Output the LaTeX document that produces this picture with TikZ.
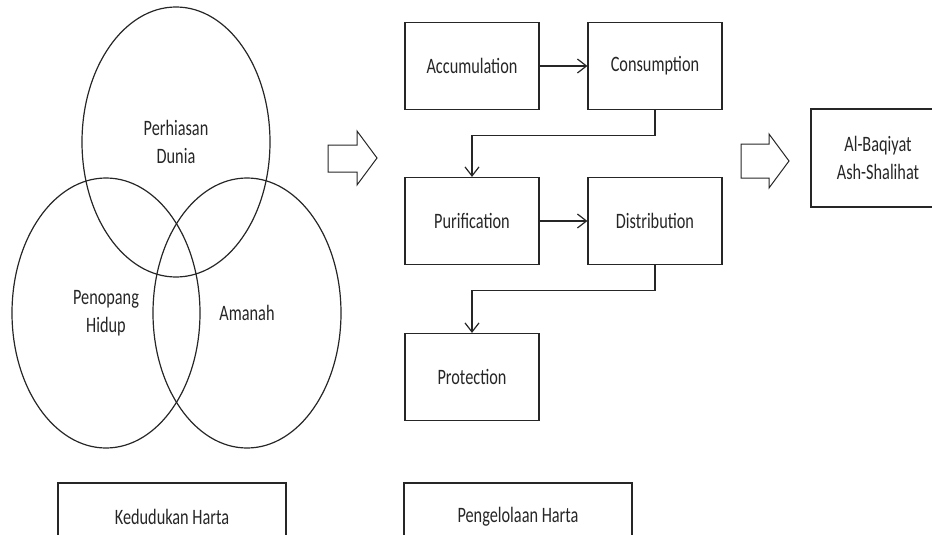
\documentclass[tikz,border=0pt]{standalone}
\usepackage{fontspec}
\setmainfont{Carlito}[FakeStretch=0.74]
\usetikzlibrary{arrows.meta,shapes.geometric}
\tikzstyle{setStyle}=[shape = ellipse, draw, minimum width = 188pt, minimum height = 270pt, inner sep = 0pt, align = center]
\tikzstyle{stepStyle}=[shape = rectangle, draw, minimum width = 134pt, minimum height = 87pt, inner sep = 0pt, align = center]
\tikzstyle{titleStyle}=[shape = rectangle, draw, minimum width = 228pt, minimum height = 68pt, inner sep = 0pt]
\tikzstyle{flowStyle}=[-{Straight Barb[length = 9pt, width = 14pt]}]

\begin{document}
\begin{tikzpicture}[x = 1pt, y = -1pt, line width = 1.2pt, color = black!85, font = \fontsize{22}{28}\selectfont]
\useasboundingbox (0,0) rectangle (932,535);
\node[setStyle] (s0) at (176,142) {Perhiasan\\Dunia};
\node[setStyle] (s1) at (106,313) {Penopang\\Hidup};
\node[setStyle] (s2) at (247,313) {Amanah};
\node[stepStyle] (p0) at (472,66) {Accumulation};
\node[stepStyle] (p1) at (655,66) {Consumption};
\node[stepStyle] (p2) at (472,221) {Purification};
\node[stepStyle] (p3) at (655,221) {Distribution};
\node[stepStyle] (p4) at (472,377) {Protection};
\node[stepStyle, minimum height = 98pt] (r0) at (878,158) {Al-Baqiyat\\Ash-Shalihat};
\node[titleStyle] (t0) at (172,517) {Kedudukan Harta};
\node[titleStyle] (t1) at (518,517) {Pengelolaan Harta};
\draw[flowStyle] (p0) -- (p1);
\draw[flowStyle] (p2) -- (p3);
\draw[flowStyle] (p1.south) -- ++(0,25) -| (p2.north);
\draw[flowStyle] (p3.south) -- ++(0,25) -| (p4.north);
\draw[line width = 1pt] (328,145) -- (357,145) -- (357,131) -- (377,158) -- (357,185) -- (357,172) -- (328,172) -- cycle;
\draw[line width = 1pt] (741,144) -- (769,144) -- (769,134) -- (789,161) -- (769,188) -- (769,178) -- (741,178) -- cycle;
\end{tikzpicture}
\end{document}
